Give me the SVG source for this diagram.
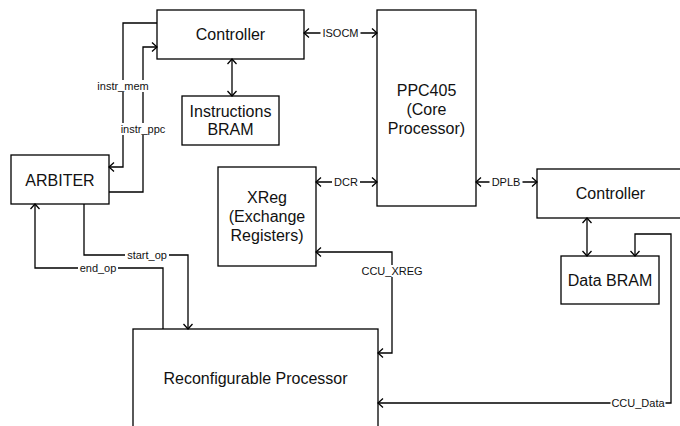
<svg xmlns="http://www.w3.org/2000/svg" width="680" height="426" viewBox="0 0 680 426">
<style>
.box{fill:#fff;stroke:#000;stroke-width:1.3}
.t{font-family:"Liberation Sans",Arial,sans-serif;font-size:16px;fill:#111;text-anchor:middle}
.c{fill:none;stroke:#000;stroke-width:1.3}
.a{marker-end:url(#ah)}
.b{marker-start:url(#ah);marker-end:url(#ah)}
.bg{fill:#fff}
.l{font-family:"Liberation Sans",Arial,sans-serif;font-size:11px;fill:#111;text-anchor:middle}
</style>
<defs>
<marker id="ah" viewBox="0 0 10 10" refX="8.5" refY="5" markerWidth="10" markerHeight="10" markerUnits="userSpaceOnUse" orient="auto-start-reverse">
<path d="M3.5,0.5 L8.5,5 L3.5,9.5" fill="none" stroke="#000" stroke-width="1.3"/>
</marker>
</defs>
<g id="ctrl-top"><rect class="box" x="157" y="10" width="147" height="49"/><text class="t" x="230.5" y="40">Controller</text></g>
<g id="instr-bram"><rect class="box" x="182" y="96" width="97" height="49"/><text class="t" x="230.5" y="116.6">Instructions</text><text class="t" x="230.5" y="134.6">BRAM</text></g>
<g id="arbiter"><rect class="box" x="11" y="155" width="98" height="49"/><text class="t" x="60" y="185.6">ARBITER</text></g>
<g id="ppc405"><rect class="box" x="377" y="10" width="99" height="196"/><text class="t" x="426.5" y="95.6">PPC405</text><text class="t" x="426.5" y="114.6">(Core</text><text class="t" x="426.5" y="133.6">Processor)</text></g>
<g id="xreg"><rect class="box" x="218" y="167" width="98" height="99"/><text class="t" x="267" y="202.6">XReg</text><text class="t" x="267" y="221.6">(Exchange</text><text class="t" x="267" y="240.6">Registers)</text></g>
<g id="ctrl-data"><rect class="box" x="537" y="169" width="147" height="49"/><text class="t" x="610.5" y="198.6">Controller</text></g>
<g id="data-bram"><rect class="box" x="561" y="256" width="98" height="48"/><text class="t" x="610" y="285.6">Data BRAM</text></g>
<g id="reconf"><rect class="box" x="133" y="329" width="245" height="100"/><text class="t" x="255.5" y="383.6">Reconfigurable Processor</text></g>
<g id="connectors">
<path class="c b" d="M232,59 V96"/>
<path class="c b" d="M304,33 H377"/>
<path class="c a" d="M157,23 H123 V167 H109"/>
<path class="c a" d="M109,192 H143 V47 H157"/>
<path class="c b" d="M316,182 H377"/>
<path class="c b" d="M476,182 H537"/>
<path class="c b" d="M587,218 V256"/>
<path class="c b" d="M635,256 V234 H671 V403 H378"/>
<path class="c b" d="M316,252 H392 V353 H378"/>
<path class="c a" d="M84,204 V255 H188 V329"/>
<path class="c a" d="M163,329 V268 H35 V204"/>
<rect class="bg" x="320.5" y="27" width="40" height="12"/><text class="l" x="340.5" y="36.9">ISOCM</text>
<rect class="bg" x="95.5" y="80" width="55" height="12"/><text class="l" x="123" y="89.9">instr_mem</text>
<rect class="bg" x="118.5" y="123" width="49" height="12"/><text class="l" x="143" y="132.9">instr_ppc</text>
<rect class="bg" x="332" y="176" width="28" height="12"/><text class="l" x="346" y="185.9">DCR</text>
<rect class="bg" x="489.5" y="176" width="33" height="12"/><text class="l" x="506" y="185.9">DPLB</text>
<rect class="bg" x="610.5" y="397" width="55" height="12"/><text class="l" x="638" y="406.9">CCU_Data</text>
<rect class="bg" x="360" y="265" width="64" height="12"/><text class="l" x="392" y="274.9">CCU_XREG</text>
<rect class="bg" x="125" y="249" width="44" height="12"/><text class="l" x="147" y="258.9">start_op</text>
<rect class="bg" x="78" y="262" width="40" height="12"/><text class="l" x="98" y="271.9">end_op</text>
</g>
</svg>
